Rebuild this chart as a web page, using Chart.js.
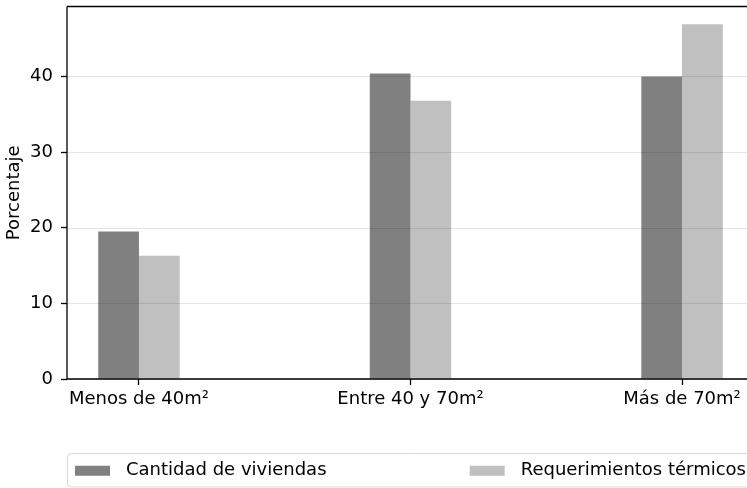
<!DOCTYPE html>
<html>
<head>
<meta charset="utf-8">
<script src="https://cdn.jsdelivr.net/npm/chart.js@4.4.1/dist/chart.umd.min.js"></script>
<style>
  html, body { margin: 0; padding: 0; overflow: hidden; background: #ffffff; }
  #wrap { width: 800px; height: 488px; }
</style>
</head>
<body>
<div id="wrap"><canvas id="chart" width="800" height="488"></canvas></div>
<script>
// Superficie de la vivienda: porcentaje de viviendas y de requerimientos térmicos
const categories = ['Menos de 40m²', 'Entre 40 y 70m²', 'Más de 70m²'];
const cantidadViviendas = [19.5, 40.4, 40.0];
const requerimientosTermicos = [16.3, 36.8, 46.9];
const seriesNames = ['Cantidad de viviendas', 'Requerimientos térmicos'];
const seriesColors = ['#808080', '#c0c0c0'];
const yTicks = [0, 10, 20, 30, 40];

const FONT = "'DejaVu Sans', sans-serif";
const FS = 18;

const toPoints = arr => arr.map((v, i) => ({ x: i, y: v }));

// axis frame (left, bottom, top) and horizontal grid drawn over the bars
const framePlugin = {
  id: 'frame',
  afterDatasetsDraw(chart) {
    const { ctx, chartArea: a, scales } = chart;
    ctx.save();
    ctx.strokeStyle = 'rgba(0,0,0,0.1)';
    ctx.lineWidth = 1;
    yTicks.forEach(v => {
      const y = Math.round(scales.y.getPixelForValue(v)) + 0.5;
      ctx.beginPath();
      ctx.moveTo(a.left, y);
      ctx.lineTo(a.right, y);
      ctx.stroke();
    });
    ctx.strokeStyle = '#000000';
    ctx.lineWidth = 1.3;
    ctx.beginPath();
    ctx.moveTo(a.left, a.top);
    ctx.lineTo(a.right, a.top);
    ctx.moveTo(a.left, a.top);
    ctx.lineTo(a.left, a.bottom);
    ctx.lineTo(a.right, a.bottom);
    ctx.stroke();
    ctx.restore();
  }
};

// legend box spanning the axes width, two columns
const legendPlugin = {
  id: 'legendBox',
  afterDraw(chart) {
    const { ctx, chartArea: a } = chart;
    const top = a.bottom + 74.5, h = 33.5;
    const left = a.left + 0.5, right = a.right;
    ctx.save();
    ctx.beginPath();
    ctx.roundRect(left, top, right - left, h, 4);
    ctx.fillStyle = 'rgba(255,255,255,0.8)';
    ctx.fill();
    ctx.strokeStyle = '#d6d6d6';
    ctx.lineWidth = 1;
    ctx.stroke();

    ctx.font = FS + 'px ' + FONT;
    ctx.textBaseline = 'middle';
    ctx.fillStyle = '#000000';
    const cy = top + h / 2;
    const patchW = 35, patchH = 10, gap = 16;
    chart.data.datasets.forEach((ds, i) => {
      let px;
      if (i === 0) {
        px = left + 7.5;
      } else {
        const tw = ctx.measureText(ds.label).width;
        px = right - 8 - tw - gap - patchW;
      }
      ctx.fillStyle = ds.backgroundColor;
      ctx.fillRect(px, cy - patchH / 2 + 0.5, patchW, patchH);
      ctx.fillStyle = '#000000';
      ctx.fillText(ds.label, px + patchW + gap, cy);
    });
    ctx.restore();
  }
};

new Chart(document.getElementById('chart'), {
  type: 'bar',
  data: {
    datasets: [
      { label: seriesNames[0], data: toPoints(cantidadViviendas), backgroundColor: seriesColors[0] },
      { label: seriesNames[1], data: toPoints(requerimientosTermicos), backgroundColor: seriesColors[1] }
    ]
  },
  options: {
    responsive: false,
    animation: false,
    devicePixelRatio: 1,
    categoryPercentage: 0.3,
    barPercentage: 1.0,
    layout: { padding: { left: 0, right: 46, top: 6.5, bottom: 0 } },
    plugins: {
      legend: { display: false },
      tooltip: { enabled: false }
    },
    scales: {
      x: {
        type: 'linear',
        offset: false,
        min: -0.265,
        max: 2.265,
        afterBuildTicks: s => { s.ticks = categories.map((_, i) => ({ value: i })); },
        afterFit: s => { s.height = 109; s.paddingLeft = 0; s.paddingRight = 0; },
        border: { display: false },
        grid: {
          offset: false,
          drawOnChartArea: false,
          drawTicks: true,
          tickLength: 6,
          tickColor: '#000000',
          tickWidth: 1.3
        },
        ticks: {
          autoSkip: false,
          maxRotation: 0,
          padding: 4,
          color: '#000000',
          font: { family: FONT, size: FS },
          callback: v => categories[v]
        }
      },
      y: {
        min: 0,
        max: 49.245,
        afterBuildTicks: s => { s.ticks = yTicks.map(v => ({ value: v })); },
        afterFit: s => { s.width = 67; s.paddingTop = 0; s.paddingBottom = 0; },
        border: { display: false },
        grid: {
          drawOnChartArea: false,
          drawTicks: true,
          tickLength: 6,
          tickColor: '#000000',
          tickWidth: 1.3
        },
        ticks: {
          padding: 8,
          color: '#000000',
          font: { family: FONT, size: FS }
        },
        title: {
          display: true,
          text: 'Porcentaje',
          color: '#000000',
          font: { family: FONT, size: FS },
          padding: { top: 4, bottom: 0 }
        }
      }
    }
  },
  plugins: [framePlugin, legendPlugin]
});
</script>
</body>
</html>
